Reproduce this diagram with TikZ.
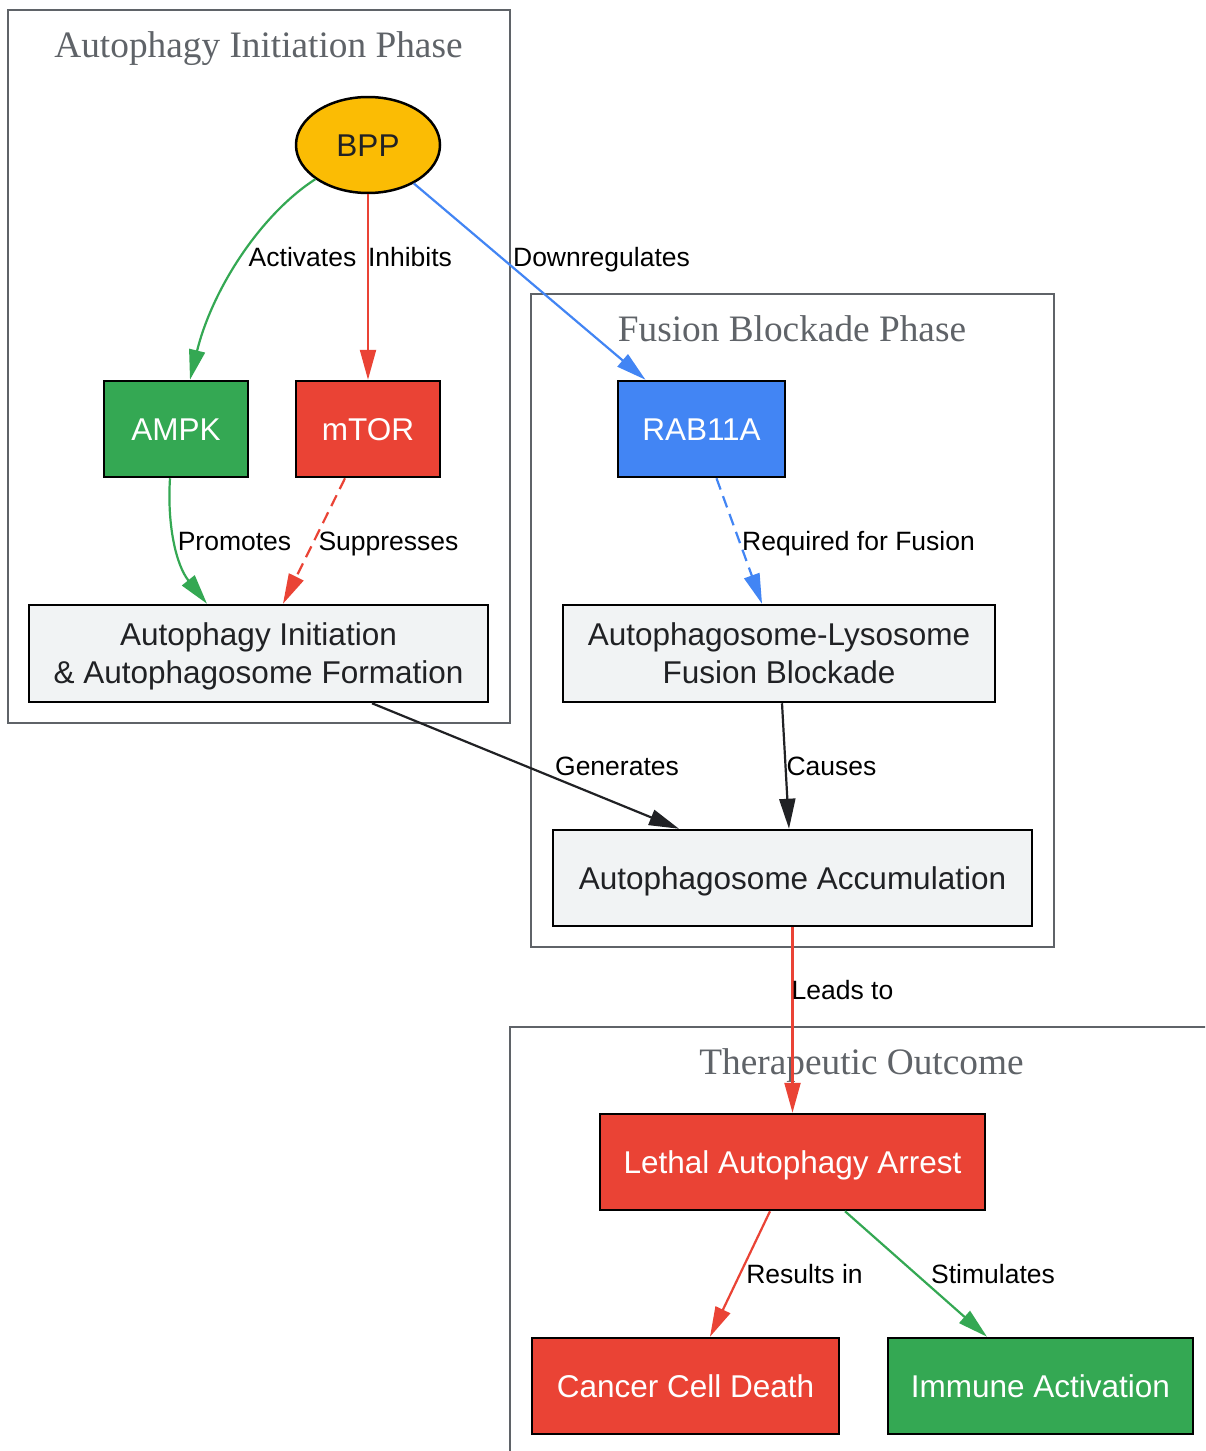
\documentclass[tikz,border=0pt]{standalone}
\usepackage{fontspec}
\setmainfont{Liberation Serif}
\newfontfamily\arialf{Liberation Sans}
\usetikzlibrary{arrows.meta,shapes.geometric}
\definecolor{ggreen}{HTML}{34A853}
\definecolor{gred}{HTML}{EA4335}
\definecolor{gblue}{HTML}{4285F4}
\definecolor{gyellow}{HTML}{FBBC04}
\definecolor{glight}{HTML}{F1F3F4}
\definecolor{gdark}{HTML}{202124}
\definecolor{ggray}{HTML}{5F6368}
\tikzset{
  cluster/.style={draw=ggray, line width=2pt},
  ctitle/.style={anchor=base, text=ggray, font=\fontsize{37.3}{40}\selectfont, inner sep=0pt},
  box/.style={draw=black, line width=2.5pt, rectangle, inner sep=0pt,
    font=\arialf\fontsize{31.5}{38}\selectfont, text height=22.6pt, text depth=0pt},
  twoline/.style={text height=30pt, text depth=45.4pt},
  darkbox/.style={box, text=white},
  lightbox/.style={box, fill=glight, text=gdark},
  elabel/.style={anchor=base, inner sep=0pt, font=\arialf\fontsize{26.5}{30}\selectfont, text=black},
  edge/.style={line width=2.2pt, -{Triangle[length=30pt,width=16pt]}},
  dashedge/.style={edge, dash pattern=on 12pt off 7pt},
}
\begin{document}
\begin{tikzpicture}[x=1pt,y=-1pt]
\useasboundingbox (0,0) rectangle (1205,1451);
\fill[white] (0,0) rectangle (1205,1451);
% clusters
\draw[cluster] (8,10) rectangle (510,723);
\draw[cluster] (531,294) rectangle (1054,947);
\begin{scope}
  \clip (0,0) rectangle (1205,1451);
  \draw[cluster] (510,1027) rectangle (1240,1480);
\end{scope}
\node[ctitle] (t1) at (258.5,57) {Autophagy Initiation Phase};
\node[ctitle] (t2) at (792,341) {Fusion Blockade Phase};
\node[ctitle] (t3) at (861.5,1074) {Therapeutic Outcome};
% nodes
\node[ellipse, draw=black, line width=2.5pt, fill=gyellow, minimum width=144pt, minimum height=96pt,
  inner sep=0pt, text=gdark, font=\arialf\fontsize{31.5}{38}\selectfont, text height=22.6pt, text depth=0pt] (bpp) at (368,145) {BPP};
\node[darkbox, fill=ggreen, minimum width=144pt, minimum height=96pt] (ampk) at (176,429) {AMPK};
\node[darkbox, fill=gred, minimum width=144pt, minimum height=96pt] (mtor) at (368,429) {mTOR};
\node[darkbox, fill=gblue, minimum width=167pt, minimum height=96pt] (rab) at (701.5,429) {RAB11A};
\node[lightbox, twoline, minimum width=459pt, minimum height=97pt] (init) at (258.5,653.5)
  {\begin{tabular}[t]{@{}c@{}}Autophagy Initiation\\\& Autophagosome Formation\end{tabular}};
\node[lightbox, twoline, minimum width=432pt, minimum height=97pt] (fus) at (779,653.5)
  {\begin{tabular}[t]{@{}c@{}}Autophagosome-Lysosome\\Fusion Blockade\end{tabular}};
\node[lightbox, minimum width=479pt, minimum height=96pt] (acc) at (792.5,878) {Autophagosome Accumulation};
\node[darkbox, fill=gred, minimum width=385pt, minimum height=96pt] (leth) at (792.5,1162) {Lethal Autophagy Arrest};
\node[darkbox, fill=gred, minimum width=307pt, minimum height=96pt] (canc) at (685.5,1386) {Cancer Cell Death};
\node[darkbox, fill=ggreen, minimum width=305pt, minimum height=96pt] (imm) at (1040.5,1386) {Immune Activation};
% edges
\draw[edge, ggreen] (bpp.213) .. controls (260,215) and (212,290) .. ([xshift=14pt]ampk.north);
\draw[edge, gred] (bpp.south) -- (mtor.north);
\draw[edge, gblue] (bpp.-40.8) -- ([xshift=-56pt]rab.north);
\draw[edge, ggreen] ([xshift=-6pt]ampk.south) .. controls (167,525) and (176,565) .. ([xshift=-51.5pt]init.north);
\draw[dashedge, gred] ([xshift=-23pt]mtor.south) -- ([xshift=24.5pt]init.north);
\draw[dashedge, gblue] ([xshift=15pt]rab.south) -- ([xshift=-17pt]fus.north);
\draw[edge, gdark] ([xshift=113.5pt]init.south) -- ([xshift=-113.5pt]acc.north);
\draw[edge, gdark] ([xshift=3pt]fus.south) -- ([xshift=-3.5pt]acc.north);
\draw[edge, gred] (acc.south) -- (leth.north);
\draw[edge, gred] ([xshift=-22.5pt]leth.south) -- ([xshift=24.5pt]canc.north);
\draw[edge, ggreen] ([xshift=52.5pt]leth.south) -- ([xshift=-53.5pt]imm.north);
% edge labels
\node[elabel] (l1) at (302.5,266.5) {Activates};
\node[elabel] (l2) at (410,266.5) {Inhibits};
\node[elabel] (l3) at (601.5,266.5) {Downregulates};
\node[elabel] (l4) at (234.5,550.5) {Promotes};
\node[elabel] (l5) at (388.5,550.5) {Suppresses};
\node[elabel] (l6) at (858.5,550.5) {Required for Fusion};
\node[elabel] (l7) at (617,775.5) {Generates};
\node[elabel] (l8) at (831.5,775.5) {Causes};
\node[elabel] (l9) at (842.5,999.5) {Leads to};
\node[elabel] (l10) at (804.5,1283.5) {Results in};
\node[elabel] (l11) at (993,1283.5) {Stimulates};
\end{tikzpicture}
\end{document}
